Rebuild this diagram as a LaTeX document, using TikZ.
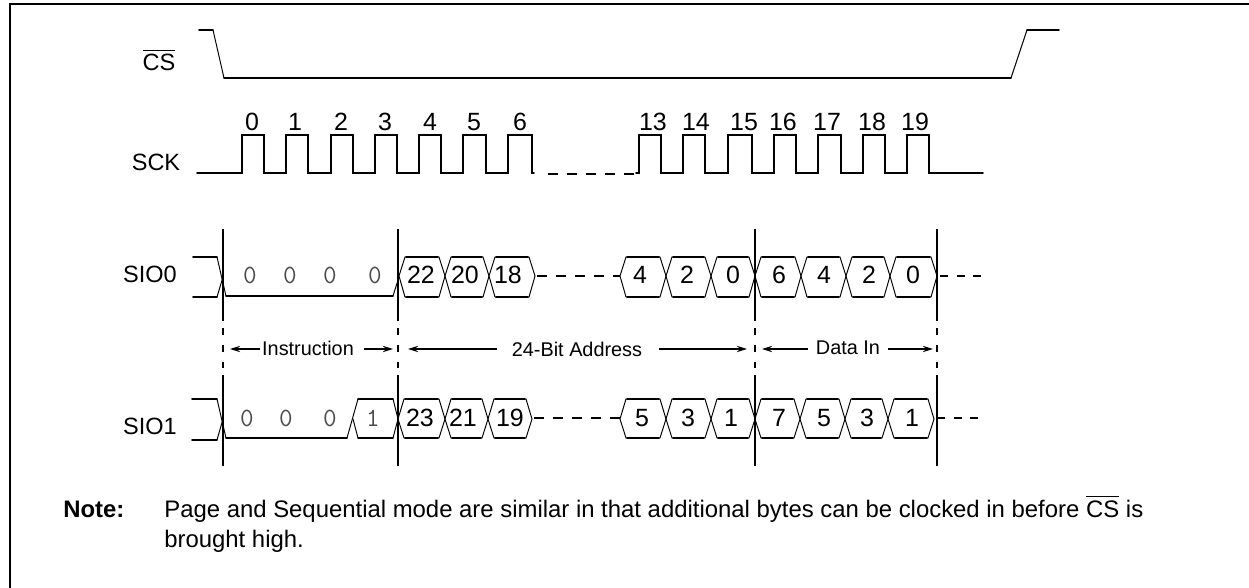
\documentclass[tikz,border=0pt]{standalone}
\usepackage{amssymb,amsmath}
\usepackage{fontspec}
\setmainfont{Liberation Sans}
\usepackage{tikz}
\usetikzlibrary{arrows.meta}
\tikzset{
  frameline/.style={line width=1.2pt,line cap=rect},
  level/.style={line width=1pt,line cap=round,line join=miter},
  slant/.style={line width=0.55pt},
  gap/.style={line width=1pt,dash pattern=on 5.6pt off 5.2pt},
  tail/.style={line width=1pt,dash pattern=on 4.6pt off 4.8pt},
  marker/.style={line width=1pt},
  markerdash/.style={line width=1pt,dash pattern=on 4pt off 5.6pt},
  span/.style={line width=0.6pt,-{Stealth[length=5.8pt,width=3.6pt]}},
  sig/.style={inner sep=0pt,font=\fontsize{13.4}{15}\selectfont},
  num/.style={inner sep=0pt,anchor=base,font=\fontsize{14.2}{16}\selectfont},
  bit/.style={inner sep=0pt,anchor=base,text=black!70,font=\ttfamily\fontsize{15}{17}\selectfont},
  span label/.style={inner sep=0pt,font=\fontsize{11.3}{13}\selectfont},
  note/.style={inner sep=0pt,anchor=base west,font=\fontsize{13.6}{16}\selectfont}
}
\begin{document}
\begin{tikzpicture}[x=0.02cm,y=-0.02cm]
\useasboundingbox (0,0) rectangle (1249,588);

% Frame
\draw[frameline] (10,588) -- (10,4) -- (1249,4);

% Signal names
\node[sig] (csname) at (159,60) {$\overline{\mbox{CS}}$};
\node[sig] (sckname) at (156,162) {SCK};
\node[sig] (sio0name) at (150,274) {SIO0};
\node[sig] (sio1name) at (150,426) {SIO1};

% CS
\draw[level] (199,30) -- (213,30);
\draw[slant] (213,30) -- (224,78);
\draw[level] (224,78) -- (1011,78);
\draw[slant] (1011,78) -- (1027,30);
\draw[level] (1027,30) -- (1059,30);

% SCK
\draw[level,line join=miter] (197,173) -- (242,173) \foreach \a/\b in {242/264,286/308,331/353,375/397,419/441,463/486,508/532} {
  -- (\a,173) -- (\a,135) -- (\b,135) -- (\b,173)
} -- (534,173);
\draw[gap] (548,174) -- (636,174);
\draw[level,line join=miter] (636,173) \foreach \a/\b in {639/661,683/705,728/752,774/796,818/841,863/885,907/929} {
  -- (\a,173) -- (\a,135) -- (\b,135) -- (\b,173)
} -- (983,173);
\foreach \x/\n in {252/0,295/1,341/2,385/3,430/4,474/5,520/6,653/13,696/14,744/15,783/16,827/17,872/18,915/19} {
  \node[num] (clk\n) at (\x,131) {\n};
}

% SIO0
\draw[level] (193,257) -- (217,257);
\draw[level] (193,297) -- (217,297);
\draw[slant] (217,257) -- (226,296);
\draw[slant] (217,297) -- (223,277);
\draw[level] (226,296) -- (393,296);
\draw[slant] (393,296) -- (399,277);
\foreach \a/\b in {399/445,445/489,489/535,620/666,666/711,711/755,755/801,801/846,846/890,890/937} {
  \draw[slant] (\a,276) -- (\a+6,257) -- (\b-6,257) -- (\b,276) -- (\b-6,297) -- (\a+6,297) -- cycle;
  \draw[level] (\a+7,257) -- (\b-7,257);
  \draw[level] (\a+7,297) -- (\b-7,297);
}
\draw[gap] (537,276) -- (620,276);
\draw[tail] (940,276) -- (985,276);
\foreach \x/\n/\k in {250/0/a,290/0/b,330/0/c,375/0/d} {
  \node[bit] (zero\k) at (\x,283) {\n};
}
\foreach \x/\n/\k in {421/22/a,465/20/b,508/18/c,640/4/d,687/2/e,733/0/f,779/6/g,824/4/h,869/2/i,913/0/j} {
  \node[num] (even\k) at (\x,283) {\n};
}

% SIO1
\draw[level] (192,399) -- (217,399);
\draw[level] (192,440) -- (217,440);
\draw[slant] (217,399) -- (226,438);
\draw[slant] (217,440) -- (223,419);
\draw[level] (226,438) -- (347,438);
\draw[slant] (347,438) -- (358,399);
\draw[slant] (353,419) -- (358,438);
\draw[level] (358,399) -- (393,399);
\draw[level] (358,438) -- (393,438);
\draw[slant] (393,399) -- (398,419) -- (393,438);
\foreach \a/\b in {398/445,445/488,488/532,620/666,666/711,711/755,755/800,800/845,845/888,888/934} {
  \draw[slant] (\a,419) -- (\a+6,399) -- (\b-6,399) -- (\b,419) -- (\b-6,438) -- (\a+6,438) -- cycle;
  \draw[level] (\a+7,399) -- (\b-7,399);
  \draw[level] (\a+7,438) -- (\b-7,438);
}
\draw[gap] (534,418) -- (620,418);
\draw[tail] (937,418) -- (985,418);
\foreach \x/\n/\k in {247/0/a,286/0/b,330/0/c,373/1/d} {
  \node[bit] (low\k) at (\x,426) {\n};
}
\foreach \x/\n/\k in {420/23/a,463/21/b,510/19/c,642/5/d,688/3/e,731/1/f,779/7/g,824/5/h,867/3/i,912/1/j} {
  \node[num] (odd\k) at (\x,426) {\n};
}

% Markers
\foreach \x/\k in {223/a,398/b,755/c,937/d} {
  \coordinate (top\k) at (\x,229);
  \coordinate (mid\k) at (\x,321);
  \coordinate (midb\k) at (\x,375);
  \coordinate (bot\k) at (\x,466);
  \draw[marker] (top\k) -- (mid\k);
  \draw[markerdash] ([yshift=-4.1pt]mid\k) -- ([yshift=4pt]midb\k);
  \draw[marker] (midb\k) -- (bot\k);
}

% Spans
\node[span label] (instr) at (308,348) {Instruction};
\node[span label] (addr) at (577,349) {24-Bit Address};
\node[span label] (datain) at (848,348) {Data In};
\coordinate (instrl) at (230,349);
\coordinate (instrr) at (393,349);
\coordinate (addrl) at (408,349);
\coordinate (addrr) at (747,349);
\coordinate (datal) at (762,349);
\coordinate (datar) at (933,349);
\draw[span] (260,349) -- (instrl);
\draw[span] (364,349) -- (instrr);
\draw[span] (497,349) -- (addrl);
\draw[span] (659,349) -- (addrr);
\draw[span] (808,349) -- (datal);
\draw[span] (888,349) -- (datar);

% Note
\node[note] (notehead) at (63,517) {\textbf{Note:}};
\node[note] (noteone) at (164,517) {Page and Sequential mode are similar in that additional bytes can be clocked in before $\overline{\mbox{CS}}$ is};
\node[note] (notetwo) at (164,547) {brought high.};
\end{tikzpicture}
\end{document}
